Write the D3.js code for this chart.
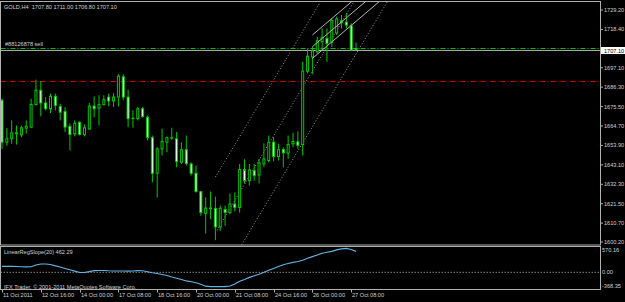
<!DOCTYPE html>
<html>
<head>
<meta charset="utf-8">
<script src="https://cdn.jsdelivr.net/npm/d3@7"></script>
<style>
body { margin: 0; background: #000; }
svg { display: block; }
text { font-family: "Liberation Sans", Arial, sans-serif; font-size: 5.6px; fill: #d2d2d2; }
</style>
</head>
<body>
<div id="container"></div>
<script>
// GOLD H4 bars (bar 0 = first visible bar)
var barOpen  = [1679.0,1655.7,1657.6,1660.4,1659.8,1663.5,1664.1,1676.6,1684.6,1677.5,
                1674.3,1681.2,1675.6,1672.8,1664.5,1660.4,1666.7,1660.0,1663.0,1675.8,
                1674.7,1676.6,1680.8,1678.6,1680.8,1692.0,1680.8,1669.0,1668.8,1674.3,
                1669.6,1658.2,1638.4,1652.0,1655.7,1658.0,1657.6,1644.5,1651.5,1643.6,
                1638.4,1628.2,1616.1,1619.1,1618.9,1608.6,1618.3,1616.6,1621.3,1619.4,
                1640.5,1634.3,1639.9,1637.5,1643.6,1645.5,1655.7,1647.7,1651.6,1649.6,
                1654.8,1655.9,1654.4,1695.2,1703.1,1705.9,1711.5,1713.4,1711.3,1716.4,
                1723.2,1722.5,1720.4,1707.8];
var barHigh  = [1679.9,1663.5,1667.8,1665.0,1665.0,1667.8,1679.9,1690.5,1689.7,1680.8,
                1682.7,1682.7,1677.1,1675.2,1666.0,1667.8,1667.4,1665.6,1677.5,1681.2,
                1681.8,1681.8,1682.7,1683.0,1693.5,1693.5,1684.9,1673.4,1675.2,1675.2,
                1670.6,1659.4,1652.9,1663.2,1658.9,1663.7,1661.3,1655.7,1659.4,1644.5,
                1642.7,1628.7,1625.0,1628.3,1625.4,1620.4,1620.4,1627.2,1627.8,1643.6,
                1646.2,1643.6,1643.6,1646.4,1655.1,1659.4,1658.5,1654.8,1652.9,1659.4,
                1660.9,1661.8,1700.4,1707.8,1708.7,1714.3,1719.0,1719.0,1724.6,1725.5,
                1726.4,1727.4,1721.8,1711.0];
var barLow   = [1652.0,1653.9,1654.8,1654.4,1658.5,1660.4,1663.7,1676.2,1670.0,1673.4,
                1671.9,1673.4,1667.8,1661.3,1651.1,1658.9,1659.4,1658.9,1662.6,1669.6,
                1665.0,1676.2,1675.6,1675.2,1675.6,1679.0,1664.1,1663.7,1667.8,1669.3,
                1656.6,1633.4,1625.0,1648.3,1650.1,1657.0,1641.7,1643.6,1642.7,1637.1,
                1627.8,1614.8,1604.9,1612.9,1601.2,1606.4,1609.2,1615.7,1617.2,1616.6,
                1632.8,1631.5,1634.3,1632.8,1641.7,1644.5,1645.1,1645.5,1641.7,1646.4,
                1652.9,1652.0,1648.3,1693.9,1693.5,1705.0,1706.9,1700.4,1708.7,1715.3,
                1719.0,1719.0,1706.5,1706.8];
var barClose = [1655.7,1657.6,1660.9,1660.9,1663.7,1664.5,1676.7,1684.6,1677.5,1674.3,
                1681.2,1676.2,1672.4,1664.1,1660.0,1666.3,1660.0,1663.7,1675.8,1674.3,
                1676.6,1679.4,1678.6,1680.8,1692.4,1680.8,1668.8,1668.8,1674.3,1670.0,
                1658.2,1638.4,1652.0,1656.1,1658.2,1658.2,1644.9,1651.5,1643.9,1638.4,
                1628.2,1616.6,1619.1,1618.7,1608.6,1618.9,1616.6,1621.3,1619.4,1640.5,
                1634.3,1640.3,1637.1,1644.2,1646.4,1655.7,1647.7,1651.5,1649.8,1654.4,
                1656.1,1654.0,1695.2,1703.5,1706.5,1712.1,1714.0,1710.6,1723.3,1724.2,
                1722.1,1720.8,1706.9,1707.1];

// LinearRegSlope(20) per bar
var regSlope = [130.6,130.6,130.6,126.9,123.1,119.4,123.1,160.4,182.8,182.8,
                171.6,141.8,115.7,85.9,56.1,26.3,-3.5,-3.5,15.1,37.5,
                41.2,41.2,33.8,30.0,30.0,30.0,26.3,30.0,37.5,33.8,
                11.4,-11.0,-25.9,-48.2,-70.6,-104.1,-130.2,-160.0,-189.8,-208.4,
                -230.7,-264.3,-305.3,-316.4,-316.4,-316.4,-316.4,-301.5,-256.8,-197.2,
                -156.3,-111.5,-74.3,-40.8,0.2,44.9,85.9,130.6,167.9,193.9,
                220.0,238.6,264.7,309.4,346.7,383.9,421.2,443.5,462.1,495.7,
                518.0,529.2,503.1,462.29];

// axis labels
var timeIndex  = [0, 8, 16, 24, 32, 40, 48, 56, 64, 72];
var timeLabels = ["11 Oct 2011", "12 Oct 16:00", "14 Oct 00:00", "17 Oct 08:00", "18 Oct 16:00",
                  "20 Oct 00:00", "21 Oct 08:00", "24 Oct 16:00", "26 Oct 00:00", "27 Oct 08:00"];
var priceTicks = [1729.20, 1718.40, 1697.10, 1686.30, 1675.50, 1664.70, 1653.90,
                  1643.10, 1632.30, 1621.50, 1610.70, 1600.20];
var slopeTicks = [570.16, 0.00, -368.35];

// order / price lines
var bidPrice = 1707.10;
var orderPrice = 1708.00;
var orderLabel = "#88126878 sell";
var tpPrice = 1689.70;

// regression channels: start bar, prices at start bar (upper, middle, lower), change per bar
var dotChannel   = {start: 44, prices: [1636.3, 1605.3, 1574.3], perBar: 4.5};
var solidChannel = {start: 64, prices: [1715.3, 1708.8, 1702.3], perBar: 2.29};

var headerText = "GOLD,H4  1707.80 1711.00 1706.80 1707.10";
var indName = "LinearRegSlope(20) 462.29";
var copyText = "IFX Trader, \u00a9 2001-2011 MetaQuotes Software Corp.";

// layout
var width = 625, height = 302;
var plotLeft = 0.5, plotRight = 600.5;
var mainTop = 1.5, mainBottom = 245;
var indTop = 246.5, indBottom = 289.5;

var svg = d3.select("#container").append("svg")
    .attr("width", width)
    .attr("height", height);

svg.append("rect").attr("width", width).attr("height", height).attr("fill", "#000");

var xScale = d3.scaleLinear().domain([0, 73]).range([2, 2 + 73 * 4.85]);
var yScale = d3.scaleLinear().domain([1729.2, 1600.2]).range([10, 242]);
var iScale = d3.scaleLinear().domain([570.16, -368.35]).range([246.5, 289]);

svg.append("clipPath").attr("id", "mainClip")
    .append("rect")
    .attr("x", plotLeft).attr("y", mainTop)
    .attr("width", plotRight - plotLeft).attr("height", mainBottom - mainTop);

var main = svg.append("g").attr("clip-path", "url(#mainClip)");

// channel lines (rays to the right)
function channel(ch, dash, colour) {
    var endBar = ch.start + 60;
    ch.prices.forEach(function(p) {
        main.append("line")
            .attr("x1", xScale(ch.start)).attr("y1", yScale(p))
            .attr("x2", xScale(endBar)).attr("y2", yScale(p + ch.perBar * 60))
            .attr("stroke", colour)
            .attr("stroke-width", 1)
            .attr("stroke-dasharray", dash);
    });
}
channel(dotChannel, "1,2", "#9a9a9a");

// price lines
function hline(p, colour, dash) {
    var y = Math.round(yScale(p)) + 0.5;
    main.append("line")
        .attr("x1", plotLeft).attr("x2", plotRight)
        .attr("y1", y).attr("y2", y)
        .attr("stroke", colour)
        .attr("stroke-dasharray", dash);
}
hline(tpPrice, "#d80000", "5,2,1,2");
hline(orderPrice, "#00c000", "5,2,1,2");
hline(bidPrice, "#a8a8a8", null);

// candles
var idx = d3.range(barOpen.length);
var green = "#00c800";

main.selectAll(".wick").data(idx).enter()
    .append("line")
    .attr("class", "wick")
    .attr("x1", function(i) { return xScale(i); })
    .attr("x2", function(i) { return xScale(i); })
    .attr("y1", function(i) { return yScale(barHigh[i]); })
    .attr("y2", function(i) { return yScale(barLow[i]); })
    .attr("stroke", green);

main.selectAll(".body").data(idx).enter()
    .append("rect")
    .attr("class", "body")
    .attr("x", function(i) { return xScale(i) - 1; })
    .attr("width", 2)
    .attr("y", function(i) { return yScale(Math.max(barOpen[i], barClose[i])); })
    .attr("height", function(i) {
        return Math.max(Math.abs(yScale(barOpen[i]) - yScale(barClose[i])), 0.3);
    })
    .attr("fill", function(i) { return barClose[i] >= barOpen[i] ? "#000" : "#f4fff4"; })
    .attr("stroke", green);

channel(solidChannel, null, "#b4b4b4");

// texts in main window
svg.append("text").attr("x", 4).attr("y", 8.5).text(headerText).style("white-space", "pre");
svg.append("text").attr("x", 5).attr("y", 46).text(orderLabel);

// frames
svg.append("rect")
    .attr("x", plotLeft).attr("y", mainTop)
    .attr("width", plotRight - plotLeft).attr("height", mainBottom - mainTop)
    .attr("fill", "none").attr("stroke", "#b0b0b0");

// price axis
priceTicks.forEach(function(p) {
    var y = yScale(p);
    svg.append("line").attr("x1", plotRight).attr("x2", plotRight + 2.5)
        .attr("y1", y).attr("y2", y).attr("stroke", "#b0b0b0");
    svg.append("text").attr("x", 604).attr("y", y + 2).text(p.toFixed(2));
});
var bidY = Math.round(yScale(bidPrice)) + 0.5;
svg.append("rect").attr("x", 601).attr("y", bidY - 3.5).attr("width", 24).attr("height", 7)
    .attr("fill", "#fff");
svg.append("text").attr("x", 604).attr("y", bidY + 2)
    .style("fill", "#000").text(bidPrice.toFixed(2));

// indicator window
svg.append("line")
    .attr("x1", plotLeft).attr("x2", plotRight)
    .attr("y1", iScale(0)).attr("y2", iScale(0))
    .attr("stroke", "#8a8a8a").attr("stroke-dasharray", "1.5,1.5");

svg.append("path")
    .datum(idx)
    .attr("d", d3.line()
        .x(function(i) { return xScale(i); })
        .y(function(i) { return iScale(regSlope[i]); }))
    .attr("fill", "none")
    .attr("stroke", "#62b4e4")
    .attr("stroke-width", 1.1);

svg.append("text").attr("x", 4).attr("y", 253.7).text(indName);
svg.append("text").attr("x", 4).attr("y", 289).text(copyText);

svg.append("rect")
    .attr("x", plotLeft).attr("y", indTop)
    .attr("width", plotRight - plotLeft).attr("height", indBottom - indTop)
    .attr("fill", "none").attr("stroke", "#b0b0b0");

slopeTicks.forEach(function(v) {
    var y = iScale(v);
    var ty = Math.min(Math.max(y + 2, indTop + 5.8), indBottom - 1.5);
    svg.append("text").attr("x", 602).attr("y", ty).text(v.toFixed(2));
});

// time axis
timeIndex.forEach(function(b, k) {
    var x = Math.round(xScale(b)) + 0.5;
    svg.append("line").attr("x1", x).attr("x2", x)
        .attr("y1", indBottom).attr("y2", indBottom + 3).attr("stroke", "#b0b0b0");
    svg.append("text").attr("x", x + 0.5).attr("y", 297).text(timeLabels[k]);
});
</script>
</body>
</html>
